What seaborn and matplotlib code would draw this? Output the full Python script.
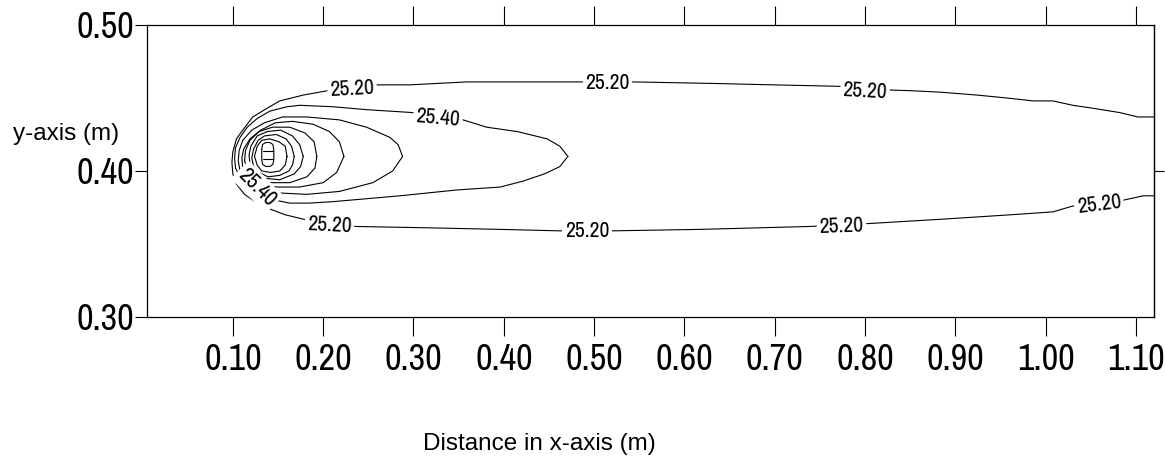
import matplotlib
matplotlib.use("Agg")
import matplotlib.pyplot as plt
from matplotlib import font_manager
import seaborn as sns

# contour 25.20 (outer, open on the right edge)
c2520_x = [1.120, 1.102, 1.082, 1.052, 1.030, 1.008, 0.986, 0.957, 0.924, 0.883, 0.850, 0.800,
           0.771, 0.698, 0.629, 0.544, 0.490, 0.432, 0.359, 0.296, 0.261, 0.232, 0.205, 0.178,
           0.152, 0.138, 0.122, 0.111, 0.104, 0.100, 0.099, 0.100, 0.104, 0.113, 0.127, 0.141,
           0.158, 0.178, 0.207, 0.237, 0.322, 0.396, 0.462, 0.520, 0.617, 0.739, 0.804, 0.886,
           0.961, 1.008, 1.030, 1.059, 1.086, 1.108, 1.120]
c2520_y = [0.437, 0.437, 0.440, 0.443, 0.445, 0.448, 0.448, 0.450, 0.452, 0.454, 0.455, 0.456,
           0.458, 0.459, 0.460, 0.461, 0.461, 0.461, 0.461, 0.459, 0.459, 0.457, 0.455, 0.452,
           0.448, 0.443, 0.437, 0.428, 0.422, 0.413, 0.406, 0.398, 0.391, 0.384, 0.378, 0.374,
           0.370, 0.367, 0.363, 0.362, 0.361, 0.360, 0.359, 0.359, 0.360, 0.362, 0.364, 0.367,
           0.370, 0.372, 0.376, 0.378, 0.380, 0.383, 0.383]

# contour 25.40
c2540_x = [0.471, 0.462, 0.448, 0.415, 0.381, 0.355, 0.327, 0.299, 0.248, 0.211, 0.174, 0.160,
           0.141, 0.127, 0.116, 0.108, 0.103, 0.102, 0.103, 0.108, 0.117, 0.130, 0.147, 0.163,
           0.185, 0.211, 0.285, 0.348, 0.396, 0.421, 0.445, 0.462, 0.471]
c2540_y = [0.410, 0.417, 0.422, 0.427, 0.430, 0.435, 0.437, 0.440, 0.442, 0.444, 0.445, 0.444,
           0.441, 0.436, 0.430, 0.423, 0.416, 0.409, 0.402, 0.396, 0.389, 0.384, 0.380, 0.378,
           0.378, 0.379, 0.383, 0.387, 0.389, 0.393, 0.398, 0.403, 0.410]

# inner closed contours around the source
inner_x = [
    [0.288, 0.283, 0.274, 0.248, 0.218, 0.182, 0.155, 0.135, 0.121, 0.111, 0.107, 0.106, 0.108,
     0.114, 0.128, 0.149, 0.182, 0.218, 0.255, 0.277, 0.288],
    [0.223, 0.218, 0.207, 0.189, 0.166, 0.147, 0.131, 0.119, 0.112, 0.110, 0.111, 0.118, 0.130,
     0.149, 0.174, 0.200, 0.215, 0.223],
    [0.193, 0.190, 0.180, 0.163, 0.144, 0.129, 0.119, 0.114, 0.113, 0.117, 0.125, 0.141, 0.163,
     0.182, 0.191, 0.193],
    [0.178, 0.174, 0.166, 0.153, 0.138, 0.127, 0.120, 0.118, 0.119, 0.124, 0.135, 0.152, 0.168,
     0.175, 0.178],
    [0.168, 0.165, 0.159, 0.148, 0.135, 0.128, 0.123, 0.121, 0.123, 0.129, 0.139, 0.152, 0.162,
     0.166, 0.168],
    [0.160, 0.158, 0.151, 0.141, 0.132, 0.127, 0.124, 0.127, 0.132, 0.142, 0.152, 0.158, 0.160],
    [0.132, 0.133, 0.1365, 0.141, 0.1443, 0.1454, 0.1454, 0.1443, 0.141, 0.1365, 0.133, 0.132,
     0.132],
]
inner_y = [
    [0.410, 0.418, 0.423, 0.430, 0.435, 0.437, 0.437, 0.433, 0.428, 0.421, 0.414, 0.407, 0.400,
     0.394, 0.389, 0.385, 0.384, 0.386, 0.392, 0.400, 0.410],
    [0.410, 0.420, 0.427, 0.432, 0.434, 0.433, 0.428, 0.422, 0.415, 0.409, 0.402, 0.396, 0.391,
     0.389, 0.389, 0.392, 0.399, 0.410],
    [0.410, 0.420, 0.426, 0.430, 0.430, 0.427, 0.421, 0.414, 0.407, 0.400, 0.395, 0.392, 0.392,
     0.396, 0.402, 0.410],
    [0.410, 0.418, 0.424, 0.428, 0.427, 0.424, 0.417, 0.411, 0.404, 0.398, 0.395, 0.394, 0.398,
     0.403, 0.410],
    [0.410, 0.417, 0.422, 0.425, 0.424, 0.421, 0.415, 0.409, 0.403, 0.399, 0.396, 0.397, 0.400,
     0.404, 0.410],
    [0.410, 0.417, 0.420, 0.422, 0.421, 0.417, 0.410, 0.404, 0.400, 0.399, 0.400, 0.404, 0.410],
    [0.4147, 0.4182, 0.4195, 0.4195, 0.4182, 0.4147, 0.4079, 0.4045, 0.4031, 0.4031, 0.4045,
     0.4079, 0.4147],
]
# two short bars inside the source mark
bar_x = [0.133, 0.1443]
bar_y = [0.4134, 0.4079]

# contour labels
label_txt = ["25.20", "25.20", "25.20", "25.40", "25.40", "25.20", "25.20", "25.20", "25.20"]
label_x = [0.232, 0.515, 0.800, 0.327, 0.127, 0.207, 0.492, 0.774, 1.059]
label_y = [0.4565, 0.460, 0.455, 0.436, 0.389, 0.363, 0.359, 0.362, 0.377]
label_rot = [3, 0, -3, -5, -45, -3, 0, 2, 7]

x_ticks = [0.10, 0.20, 0.30, 0.40, 0.50, 0.60, 0.70, 0.80, 0.90, 1.00, 1.10]
y_ticks = [0.30, 0.40, 0.50]

sns.set_style("white")
plt.rcParams['font.family'] = ['Liberation Sans', 'DejaVu Sans']
plt.rcParams['text.color'] = 'black'

# look for a narrow face for the numbers
narrow = None
for f in font_manager.fontManager.ttflist:
    if f.stretch in ('condensed', 'semi-condensed', 'extra-condensed') or \
            'Narrow' in f.name or 'Condensed' in f.name:
        if f.style == 'normal' and f.weight in (400, 'normal', 'regular'):
            narrow = f
            if 'Narrow' in f.name:
                break
if narrow is not None:
    num_font = font_manager.FontProperties(fname=narrow.fname)
    tick_size, lab_size = 26, 15.5
else:
    num_font = font_manager.FontProperties(family='Liberation Sans')
    tick_size, lab_size = 20, 12.5

fig = plt.figure(figsize=(11.65, 4.61), dpi=100)
ax = fig.add_axes([0.1262, 0.3124, 0.8644, 0.6334])

line_kw = dict(color='black', linewidth=0.8, sort=False, estimator=None, legend=False)
sns.lineplot(x=c2520_x, y=c2520_y, ax=ax, **line_kw)
sns.lineplot(x=c2540_x, y=c2540_y, ax=ax, **line_kw)
for xs, ys in zip(inner_x, inner_y):
    sns.lineplot(x=xs, y=ys, ax=ax, **line_kw)
for yb in bar_y:
    sns.lineplot(x=bar_x, y=[yb, yb], ax=ax, **line_kw)

for t, lx, ly, r in zip(label_txt, label_x, label_y, label_rot):
    ax.text(lx, ly, t, rotation=r, ha='center', va='center', fontproperties=num_font,
            fontsize=lab_size, color='black', zorder=5, rotation_mode='anchor',
            bbox=dict(boxstyle='square,pad=0.12', fc='white', ec='none'))

ax.set_xlim(0.005, 1.12)
ax.set_ylim(0.30, 0.50)
ax.set_xticks(x_ticks, [f"{v:.2f}" for v in x_ticks])
ax.set_yticks(y_ticks, [f"{v:.2f}" for v in y_ticks])
for lbl in ax.get_xticklabels() + ax.get_yticklabels():
    lbl.set_fontproperties(num_font)
    lbl.set_fontsize(tick_size)
    lbl.set_color('black')
ax.tick_params(axis='x', direction='out', length=13.5, width=0.8, pad=5,
               bottom=True, top=True, color='black')
ax.tick_params(axis='y', direction='out', length=8.5, width=0.8, pad=1,
               left=True, color='black')
right = ax.secondary_yaxis('right')
right.set_yticks([0.40], [''])
right.tick_params(direction='out', length=7, width=0.8, color='black')
right.spines['right'].set_linewidth(0.9)

for s in ax.spines.values():
    s.set_color('black')
    s.set_linewidth(0.9)

ax.set_xlabel('Distance in x-axis (m)', fontsize=17.5, color='black', va='center')
ax.xaxis.set_label_coords(0.390, -0.435)
ax.set_ylabel('y-axis (m)', fontsize=17.5, rotation=0, ha='center', va='center', color='black')
ax.yaxis.set_label_coords(-0.0804, 0.627)

plt.savefig("out.png", dpi=100)
plt.close()
